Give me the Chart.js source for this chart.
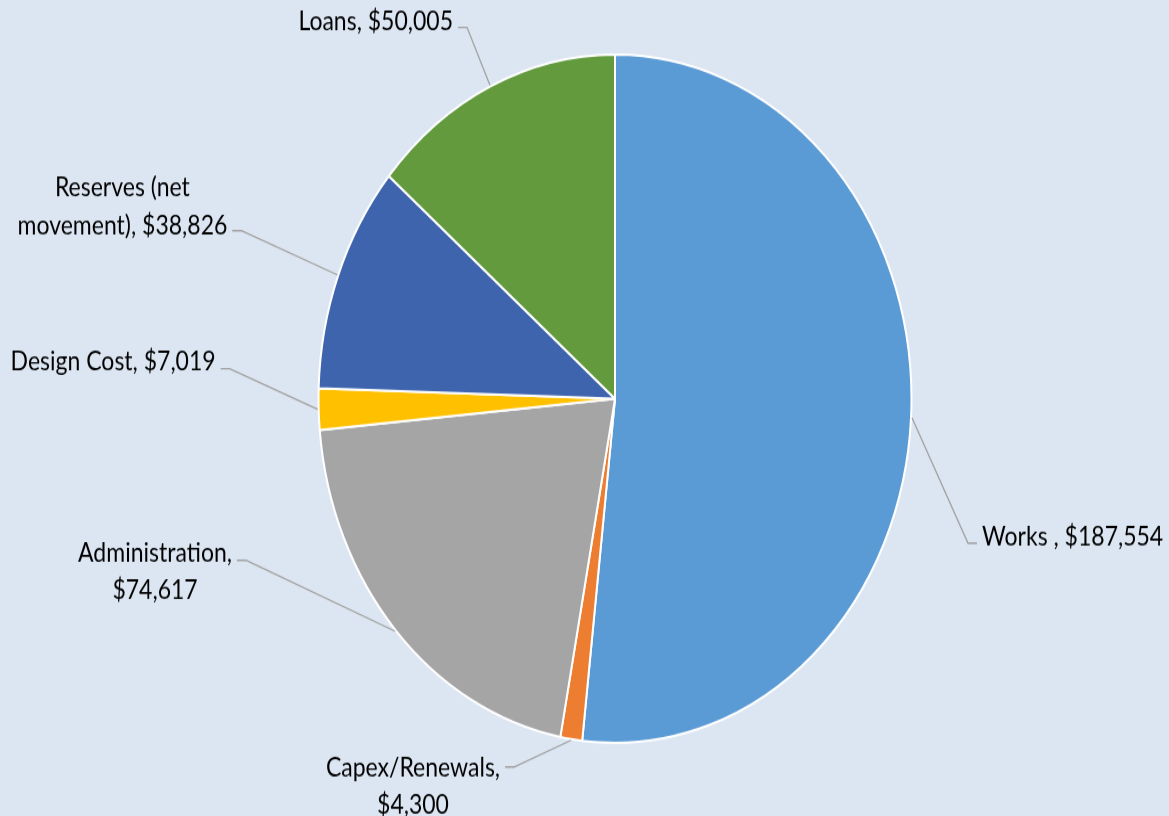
<!DOCTYPE html>
<html>
<head>
<meta charset="utf-8">
<script src="https://cdn.jsdelivr.net/npm/chart.js@4.4.1/dist/chart.umd.min.js"></script>
<style>
  html, body { margin: 0; padding: 0; background: #dce6f2; }
  body { width: 1169px; height: 816px; }
  /* the reference is stretched vertically, so draw flat and scale the box */
  #wrap { width: 1169px; height: 703px; transform: scale(1, 1.1607); transform-origin: 0 0; }
</style>
</head>
<body>
<div id="wrap"><canvas id="budget-chart" width="1169" height="703"></canvas></div>
<script>
var categories = ['Works ', 'Capex/Renewals', 'Administration', 'Design Cost', 'Reserves (net movement)', 'Loans'];
var amounts = [187554, 4300, 74617, 7019, 38826, 50005];
var sliceColors = ['#5b9bd5', '#ed7d31', '#a5a5a5', '#ffc000', '#3e64ae', '#639a3e'];

// where each data label sits, relative to the edge of its slice
var labelLayout = [
  { dx: 56, dy: 108, side: 'right', split: 0, attach: 0, shift: 2 },
  { dx: -57, dy: 23, side: 'left', split: 1, attach: 0, shift: 8 },
  { dx: -149, dy: -61, side: 'left', split: 1, attach: 0, shift: 1 },
  { dx: -88, dy: -35, side: 'left', split: 0, attach: 0, shift: 1 },
  { dx: -96, dy: -38, side: 'left', split: 2, attach: 1, shift: 3 },
  { dx: -23, dy: -50, side: 'left', split: 0, attach: 0, shift: 2 }
];

function money(v) {
  return '$' + v.toLocaleString('en-US');
}

function labelLines(i) {
  var text = categories[i] + ', ' + money(amounts[i]);
  var split = labelLayout[i].split;
  if (!split) return [text];
  var parts = text.split(' ');
  return [parts.slice(0, split).join(' '), parts.slice(split).join(' ')];
}

var leaderLabels = {
  id: 'leaderLabels',
  afterDatasetsDraw: function(chart) {
    var ctx = chart.ctx;
    var meta = chart.getDatasetMeta(0);
    ctx.save();
    ctx.font = '23px Lato, "Open Sans", sans-serif';
    ctx.textBaseline = 'alphabetic';
    ctx.fillStyle = '#000000';
    ctx.strokeStyle = '#a0a0a0';
    ctx.lineWidth = 1.3;
    meta.data.forEach(function(arc, i) {
      var p = arc.getProps(['x', 'y', 'startAngle', 'endAngle', 'outerRadius'], true);
      var mid = (p.startAngle + p.endAngle) / 2;
      var ax = p.x + Math.cos(mid) * (p.outerRadius + 1);
      var ay = p.y + Math.sin(mid) * (p.outerRadius + 1);
      var lay = labelLayout[i];
      var ex = ax + lay.dx, ey = ay + lay.dy;
      var dir = lay.side === 'left' ? -1 : 1;
      ctx.beginPath();
      ctx.moveTo(ax, ay);
      ctx.lineTo(ex, ey);
      ctx.lineTo(ex + dir * 9, ey);
      ctx.stroke();

      var lines = labelLines(i);
      var w = Math.max.apply(null, lines.map(function(t) { return ctx.measureText(t).width; }));
      var edge = ex + dir * 14;
      var cx = lay.side === 'left' ? edge - w / 2 : edge + w / 2;
      var base = ey + lay.shift;
      ctx.textAlign = 'center';
      lines.forEach(function(t, k) {
        ctx.fillText(t, cx, base + (k - lay.attach) * 32.3);
      });
    });
    ctx.restore();
  }
};

var chart = new Chart(document.getElementById('budget-chart'), {
  type: 'pie',
  data: {
    labels: categories,
    datasets: [{
      data: amounts,
      backgroundColor: sliceColors,
      borderColor: '#ffffff',
      borderWidth: 2
    }]
  },
  options: {
    responsive: false,
    animation: false,
    layout: { padding: { left: 265, right: 204, top: 46, bottom: 62 } },
    plugins: {
      legend: { display: false },
      tooltip: { enabled: false }
    }
  },
  plugins: [leaderLabels]
});
</script>
</body>
</html>
